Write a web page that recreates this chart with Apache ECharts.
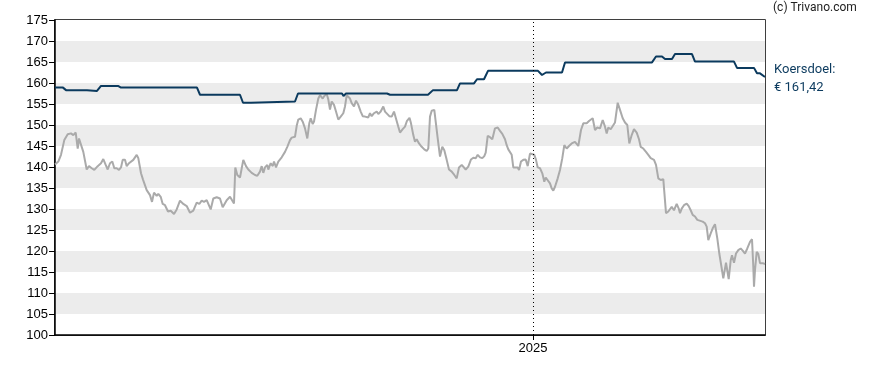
<!DOCTYPE html>
<html><head><meta charset="utf-8">
<script src="https://cdn.jsdelivr.net/npm/echarts@6/dist/echarts.min.js"></script>
<style>html,body{margin:0;padding:0;background:#fff}#c{width:888px;height:370px}</style>
</head><body><div id="c"></div>
<script>
// x values are day indices along the chart (0 = left edge)
const dayMin = 0, dayMax = 710;
const yearTickDays = [478];
const yearTickLabels = ['2025'];
const yTicks = [100,105,110,115,120,125,130,135,140,145,150,155,160,165,170,175];

const priceDays = [0,3.3,6,9.3,12.7,16,18.3,20.7,22.7,24,26,28.3,31.7,34,36.7,39.3,42.7,46,48.3,50.7,52.7,55,57.3,59.3,61.7,64,66,67.7,70,71.7,74,76,78.3,80,81.7,83.3,86,88,91.7,95,97,99,101.7,103.3,105.7,107.7,110,113,115.7,119,121.7,125,128.3,131.7,135,138.3,141.7,144.3,146.7,149,151.7,153.3,155.7,158.3,161.7,165,167.7,171.7,175,177,179,180.3,182.3,185,188.3,191,193.3,196.7,200,202.3,205,206.7,208.3,210,212.3,213.3,215.7,217.7,219,221,223.3,226.7,230,232.3,235,236.7,238.3,240,241.7,243.3,245.7,247.7,250,252.3,254.3,255.7,257.7,259,261,263.3,265,267.7,269.3,271.7,273.3,275,276.7,279,281,283.3,285.7,288.3,290,291.7,293.3,295,296.7,299,301,303.3,305.7,307.7,310,311.7,313.3,315,316.7,319,321.7,323.3,325.7,328.3,330,331.7,334.3,336.7,339,341,343.3,345,347.7,350,352,354.5,356,358.3,360,361.7,364,366.7,369.3,371.7,373.3,375,376.7,379.3,380.7,382.7,385,387.3,389.3,391.7,394,396.7,399.3,401.7,404,406.7,408.3,410.7,413.3,416,418.3,420.7,422.7,425,427.3,429.3,430.7,432.7,435,437.3,440,442.7,445,447.3,450,451.7,453.3,455,456.7,458.3,460,462.7,464,466,468.3,470.7,472.7,475,476.7,479.3,481,482.7,485,487.3,489.3,490.7,492.7,495,496.7,498.3,500,502.7,505,507.3,509.3,511.7,514,516.7,520,521.7,523.3,526,528.3,531.7,534.3,537.7,540,542.3,545,547.7,550,551.7,553.3,555.7,557.7,560,562.7,565,567.7,570,572.3,574.3,576.7,579,581.7,584,585.7,588.3,591,593.3,595.7,599,601,603.3,605.7,608.3,611,613.3,616.7,619,621.7,623.7,625,626.7,629,631.7,633.7,635.7,637.7,640,642.3,644.3,647.7,650,651.7,653.3,655.7,657.7,660,662.3,664.3,666.7,668.3,671,673.7,675.7,677,679,681,683.3,685.7,687.7,690,692.3,695,697,698.3,699,700,701.7,703.3,705,707.7,710];
const priceValues = [140.6,141.3,142.9,146.4,147.8,148.0,147.6,148.2,144.4,146.8,147.2,143.6,139.4,140.2,139.7,139.3,140.2,140.9,141.9,140.5,139.4,140.9,141.3,139.7,139.7,139.3,139.9,141.7,141.7,140.2,140.9,141.3,141.7,141.7,142.9,142.1,138.5,137.0,134.5,133.3,131.7,133.9,133.1,133.6,132.9,131.2,130.9,129.4,129.6,128.8,129.9,132.0,131.2,130.7,129.1,129.6,131.5,131.2,132.0,131.7,132.1,132.0,129.9,132.5,132.8,132.5,130.4,132.1,132.9,132.5,131.3,139.9,138.1,137.5,141.7,140.2,139.4,138.6,138.1,137.9,138.9,140.2,138.6,139.9,140.5,139.4,140.9,140.2,141.3,139.9,141.3,142.3,143.6,144.8,146.4,147.0,147.4,147.2,149.8,151.3,151.6,150.8,149.2,146.8,150.4,151.6,150.2,150.8,153.6,156.3,157.1,156.3,156.9,157.4,156.1,153.7,155.6,154.8,153.2,151.3,152.0,152.8,154.4,157.1,157.5,156.3,155.2,154.4,155.8,154.8,153.2,152.1,152.0,152.4,151.8,152.8,152.1,152.8,153.2,152.6,153.2,154.4,153.2,152.9,152.1,152.0,153.2,152.8,149.6,148.2,149.0,149.6,151.0,151.7,150.4,147.6,146.0,146.6,145.6,144.8,144.2,143.8,144.4,152.0,153.4,153.6,150.8,146.8,142.5,144.8,144.0,141.7,139.4,138.9,138.1,137.3,139.9,140.5,140.2,139.4,140.1,141.8,142.2,142.1,142.9,142.3,142.1,142.6,143.4,147.4,147.1,146.6,149.2,149.4,148.6,147.9,146.6,145.2,144.2,144.4,142.9,139.9,140.2,139.9,139.3,141.3,141.7,141.8,140.2,143.2,143.6,142.9,141.7,139.9,139.7,138.5,136.5,137.5,137.7,136.1,134.9,134.4,135.3,137.3,139.3,142.1,145.2,144.4,145.0,145.6,146.0,145.8,145.0,148.8,150.4,150.4,151.0,151.6,148.8,149.4,149.2,151.2,149.6,148.0,149.4,149.0,148.8,150.6,155.3,153.6,151.6,150.6,150.0,145.6,147.6,149.0,148.2,146.6,144.8,144.4,143.6,142.9,142.1,141.7,140.5,137.3,136.9,137.1,129.0,129.4,130.5,129.7,131.2,130.1,129.0,130.1,130.9,131.3,130.7,129.7,128.6,128.2,127.4,127.0,127.0,126.6,125.8,122.6,124.2,125.4,126.4,123.0,119.4,115.9,113.5,117.2,113.3,117.8,119.0,117.2,119.4,120.2,120.6,120.1,119.4,120.6,122.2,122.8,116.3,111.5,115.5,119.8,119.3,117.1,117.1,116.9];

const targetDays = [0,8,11,32,34,42,46,63,66,142,145,185,188,196,198,240,243,287,288.5,291,332,335,373,378,402,405,419,422,429,433,483,487,491,507,510,597,601,607,610,617,620,637,640,679,682,699,702,705,710];
const targetValues = [158.9,158.9,158.3,158.3,158.1,158.1,159.3,159.3,158.9,158.9,157.2,157.2,155.3,155.3,155.6,155.6,157.5,157.5,156.9,157.5,157.5,157.2,157.2,158.3,158.3,159.9,159.9,160.9,160.9,162.9,162.9,161.9,162.5,162.5,164.9,164.9,166.3,166.3,165.7,165.7,166.9,166.9,165.1,165.1,163.6,163.6,162.3,162.3,161.42];

const copyrightText = '(c) Trivano.com';
const targetLabel = 'Koersdoel:';
const targetValueText = '€ 161,42';

const zip = (xs, ys) => xs.map((x, i) => [x, ys[i]]);

const chart = echarts.init(document.getElementById('c'), null, {renderer: 'canvas'});
chart.setOption({
  animation: false,
  backgroundColor: '#ffffff',
  grid: {left: 55, right: 123, top: 20, bottom: 35, show: true, borderColor: '#000', borderWidth: 1.5, backgroundColor: 'transparent'},
  xAxis: {
    type: 'value', min: dayMin, max: dayMax,
    axisLine: {show: true, lineStyle: {color: '#000', width: 1.5}},
    axisTick: {show: true, length: 5, customValues: yearTickDays, lineStyle: {color: '#000'}},
    axisLabel: {show: true, customValues: yearTickDays, margin: 7, color: '#000', fontSize: 13, fontFamily: 'Arial',
      formatter: v => { const i = yearTickDays.indexOf(v); return i >= 0 ? yearTickLabels[i] : ''; }},
    splitLine: {show: false}
  },
  yAxis: {
    type: 'value', min: yTicks[0], max: yTicks[yTicks.length - 1], interval: 5,
    axisLine: {show: true, lineStyle: {color: '#000', width: 1.5}},
    axisTick: {show: true, length: 6, lineStyle: {color: '#000'}},
    axisLabel: {color: '#000', fontSize: 13, fontFamily: 'Arial', margin: 7},
    splitLine: {show: false},
    splitArea: {show: true, areaStyle: {color: ['#ffffff', '#ececec']}}
  },
  series: [
    {
      type: 'line', data: zip(priceDays, priceValues), showSymbol: false, symbol: 'none',
      lineStyle: {color: '#aaaaaa', width: 2}, z: 2,
      markLine: {
        silent: true, symbol: 'none', label: {show: false},
        lineStyle: {color: '#000', type: [1, 3], width: 1},
        data: yearTickDays.map(d => ({xAxis: d}))
      }
    },
    {
      type: 'line', data: zip(targetDays, targetValues), showSymbol: false, symbol: 'none',
      lineStyle: {color: '#0b3a5e', width: 2}, z: 3
    }
  ],
  graphic: [
    {type: 'text', left: 773, top: 2, style: {text: copyrightText, fill: '#222', font: '12px Roboto'}},
    {type: 'text', left: 774, top: 63, style: {text: targetLabel, fill: '#0b3a5e', font: '13px Roboto'}},
    {type: 'text', left: 774, top: 81, style: {text: targetValueText, fill: '#0b3a5e', font: '13px Roboto'}}
  ]
});
</script></body></html>
